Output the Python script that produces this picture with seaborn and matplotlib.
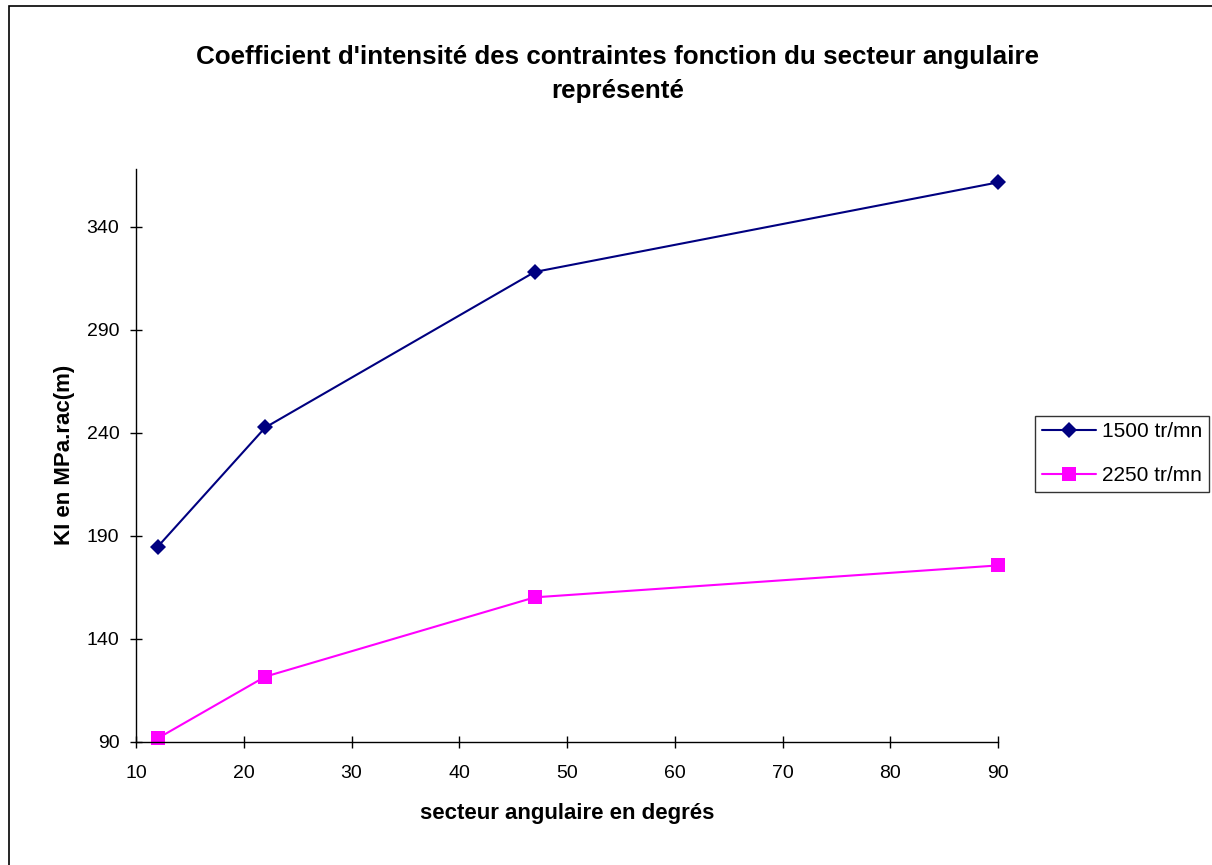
import matplotlib
matplotlib.use("Agg")
import matplotlib.pyplot as plt
import seaborn as sns
import pandas as pd
from matplotlib.patches import Rectangle
from matplotlib.lines import Line2D

secteur = [12, 22, 47, 90]
ki_1500 = [184.5, 242.5, 318, 361.5]
ki_2250 = [91.5, 121.5, 160, 175.5]
series = ["1500 tr/mn", "2250 tr/mn"]
x_ticks = [10, 20, 30, 40, 50, 60, 70, 80, 90]
y_ticks = [90, 140, 190, 240, 290, 340]

df = pd.DataFrame({
    "secteur": secteur * 2,
    "KI": ki_1500 + ki_2250,
    "serie": [series[0]] * 4 + [series[1]] * 4,
})

sns.set_theme(style="white")
plt.rcParams['font.family'] = ['Liberation Sans', 'DejaVu Sans']
plt.rcParams['text.color'] = 'black'
plt.rcParams['axes.labelcolor'] = 'black'
plt.rcParams['xtick.color'] = 'black'
plt.rcParams['ytick.color'] = 'black'

fig = plt.figure(figsize=(12.12, 8.65), dpi=100)
ax = fig.add_axes([136/1212, 1-741.5/865, (998-136)/1212, (741.5-169)/865])

sns.lineplot(data=df, x="secteur", y="KI", hue="serie", style="serie",
             palette={series[0]: "#000080", series[1]: "#FF00FF"},
             markers={series[0]: "D", series[1]: "s"},
             dashes=False, markersize=9, linewidth=1.5,
             markeredgewidth=0, ax=ax, legend=False)
for line in ax.lines:
    line.set_clip_on(False)
    if line.get_marker() == "s":
        line.set_markersize(10)
    else:
        line.set_markersize(8)

ax.set_xlim(10, 90)
ax.set_ylim(90, 368)
ax.set_xticks(x_ticks)
ax.set_yticks(y_ticks)
ax.tick_params(axis="both", direction="inout", length=8, width=1, colors="black",
               labelsize=14, bottom=True, left=True)
ax.tick_params(axis="x", pad=13)
ax.tick_params(axis="y", pad=8)
for s in ["top", "right"]:
    ax.spines[s].set_visible(False)
for s in ["left", "bottom"]:
    ax.spines[s].set_color("black")
    ax.spines[s].set_linewidth(1)
ax.set_xlabel("secteur angulaire en degrés", fontsize=16, fontweight="bold", labelpad=15)
ax.set_ylabel("KI en MPa.rac(m)", fontsize=16, fontweight="bold", labelpad=8)
ax.grid(False)

fig.text(618/1212, 1-57/865, "Coefficient d'intensité des contraintes fonction du secteur angulaire",
         ha="center", va="center", fontsize=18.7, fontweight="bold")
fig.text(618/1212, 1-91/865, "représenté",
         ha="center", va="center", fontsize=18.7, fontweight="bold")

handles = [Line2D([], [], color="#000080", marker="D", markersize=8, markeredgewidth=0, linewidth=1.5),
           Line2D([], [], color="#FF00FF", marker="s", markersize=10, markeredgewidth=0, linewidth=1.5)]
leg = fig.legend(handles, series, loc="center left", bbox_to_anchor=(1035/1212, 1-454/865),
                 frameon=True, fancybox=False, edgecolor="black", fontsize=15,
                 handlelength=2.6, borderpad=0.32, labelspacing=1.2, borderaxespad=0,
                 handletextpad=0.28)
leg.get_frame().set_linewidth(1)

fig.patches.append(Rectangle((9/1212, -0.01), 1.02, 1-6/865+0.01, transform=fig.transFigure,
                             fill=False, edgecolor="black", linewidth=1.2))

fig.savefig("out.png", dpi=100)
